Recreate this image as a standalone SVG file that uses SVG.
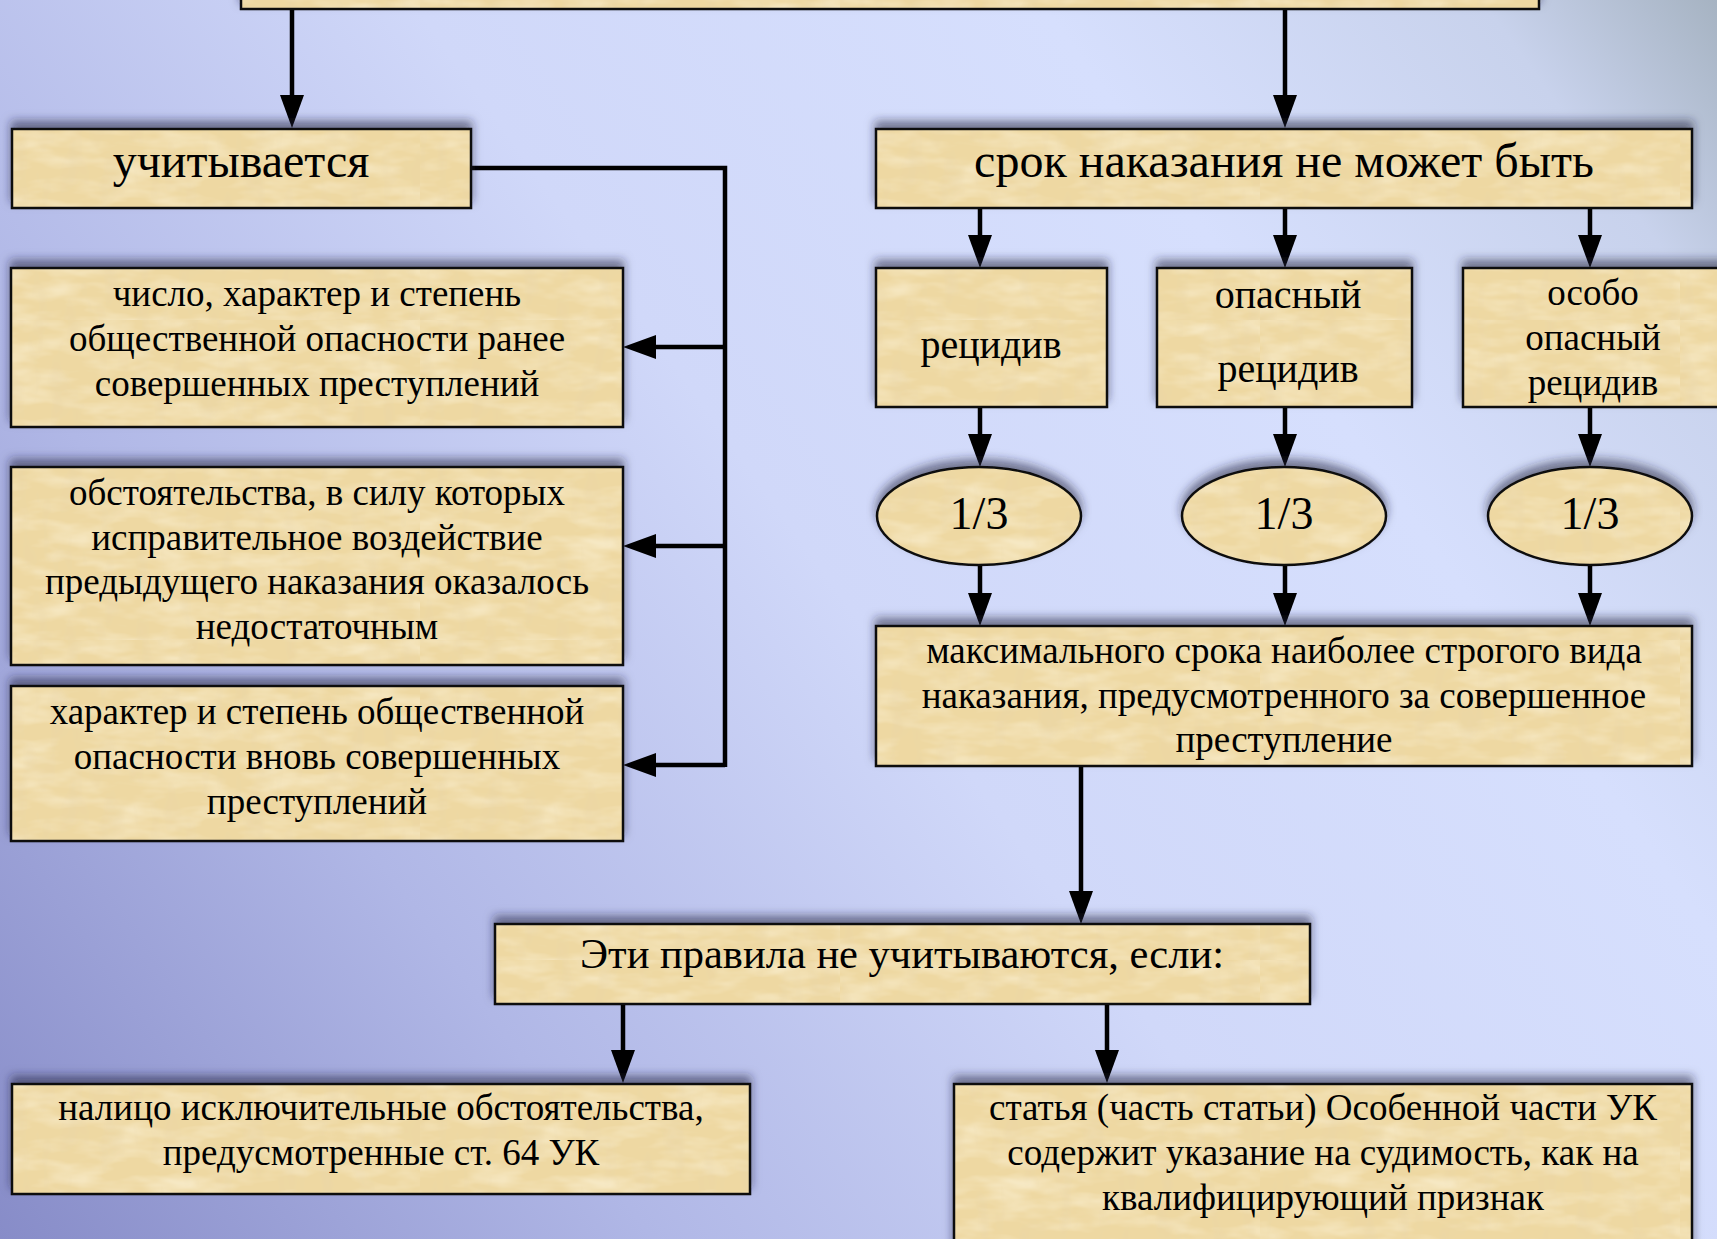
<svg xmlns="http://www.w3.org/2000/svg" width="1717" height="1239" viewBox="0 0 1717 1239">
<defs>
<linearGradient id="bg" x1="1717" y1="0" x2="0" y2="1239" gradientUnits="userSpaceOnUse">
<stop offset="0" stop-color="#a6b3c2"/>
<stop offset="0.09" stop-color="#c8d2ec"/>
<stop offset="0.26" stop-color="#d6dffd"/>
<stop offset="0.5" stop-color="#d0d8f9"/>
<stop offset="0.75" stop-color="#b0b7e6"/>
<stop offset="1" stop-color="#878cc8"/>
</linearGradient>
<filter id="noise" x="0" y="0" width="1" height="1">
<feTurbulence type="fractalNoise" baseFrequency="0.02 0.06" numOctaves="3" seed="7" result="n"/>
<feColorMatrix in="n" type="matrix" values="0 0 0 0 0.99  0 0 0 0 0.93  0 0 0 0 0.76  1.1 0 0 0 -0.45"/>
</filter>
<filter id="noise2" x="0" y="0" width="1" height="1">
<feTurbulence type="fractalNoise" baseFrequency="0.06 0.02" numOctaves="2" seed="3" result="n"/>
<feColorMatrix in="n" type="matrix" values="0 0 0 0 0.8  0 0 0 0 0.66  0 0 0 0 0.4  1.0 0 0 0 -0.5"/>
</filter>
<pattern id="paper" patternUnits="userSpaceOnUse" width="420" height="320">
<rect width="420" height="320" fill="#eed8a2"/>
<rect width="420" height="320" filter="url(#noise)"/>
<rect width="420" height="320" filter="url(#noise2)"/>
</pattern>
<filter id="sh" x="-5%" y="-30%" width="110%" height="160%">
<feDropShadow dx="0" dy="-7" stdDeviation="5" flood-color="#1a1a3a" flood-opacity="0.55"/>
</filter>
<marker id="ah" markerWidth="34" markerHeight="24" refX="23" refY="12" orient="auto" markerUnits="userSpaceOnUse">
<path d="M0,0 L33,12 L0,24 z" fill="#000"/>
</marker>
<style>
.box{fill:url(#paper);stroke:#111;stroke-width:2.5;filter:url(#sh)}
.t{font-family:"Liberation Serif","Times New Roman",serif;fill:#000;text-anchor:middle}
.s{font-size:37px}
.m{font-size:40px}
.l{font-size:48px}
.e{font-size:46px}
.h{font-size:42.5px}
.c{fill:none;stroke:#000;stroke-width:4.5}
.a{marker-end:url(#ah)}
</style>
</defs>
<rect width="1717" height="1239" fill="url(#bg)"/>

<g id="connectors">
<path class="c a" d="M292,9 V118"/>
<path class="c a" d="M1285,9 V118"/>
<path class="c" d="M471,168 H725 V767"/>
<path class="c a" d="M725,347 H633"/>
<path class="c a" d="M725,546 H633"/>
<path class="c a" d="M725,765 H633"/>
<path class="c a" d="M980,208 V258"/>
<path class="c a" d="M1285,208 V258"/>
<path class="c a" d="M1590,208 V258"/>
<path class="c a" d="M980,407 V457"/>
<path class="c a" d="M1285,407 V457"/>
<path class="c a" d="M1590,407 V457"/>
<path class="c a" d="M980,565 V616"/>
<path class="c a" d="M1285,565 V616"/>
<path class="c a" d="M1590,565 V616"/>
<path class="c a" d="M1081,766 V914"/>
<path class="c a" d="M623,1004 V1073"/>
<path class="c a" d="M1107,1004 V1073"/>
</g>

<g id="n-top"><rect class="box" x="241" y="-80" width="1298" height="89"/></g>

<g id="n-uchit"><rect class="box" x="12" y="129" width="459" height="79"/>
<text class="t l" x="241" y="177">учитывается</text></g>

<g id="n-chislo"><rect class="box" x="11" y="268" width="612" height="159"/>
<text class="t s" x="317"><tspan x="317" y="306">число, характер и степень</tspan><tspan x="317" y="351">общественной опасности ранее</tspan><tspan x="317" y="396">совершенных преступлений</tspan></text></g>

<g id="n-obst"><rect class="box" x="11" y="467" width="612" height="198"/>
<text class="t s" x="317"><tspan x="317" y="505">обстоятельства, в силу которых</tspan><tspan x="317" y="550">исправительное воздействие</tspan><tspan x="317" y="594">предыдущего наказания оказалось</tspan><tspan x="317" y="639">недостаточным</tspan></text></g>

<g id="n-harakter"><rect class="box" x="11" y="686" width="612" height="155"/>
<text class="t s" x="317"><tspan x="317" y="724">характер и степень общественной</tspan><tspan x="317" y="769">опасности вновь совершенных</tspan><tspan x="317" y="814">преступлений</tspan></text></g>

<g id="n-srok"><rect class="box" x="876" y="129" width="816" height="79"/>
<text class="t l" x="1284" y="177">срок наказания не может быть</text></g>

<g id="n-recid"><rect class="box" x="876" y="268" width="231" height="139"/>
<text class="t m" x="991" y="358">рецидив</text></g>

<g id="n-opasn"><rect class="box" x="1157" y="268" width="255" height="139"/>
<text class="t m" x="1288"><tspan x="1288" y="308">опасный</tspan><tspan x="1288" y="382">рецидив</tspan></text></g>

<g id="n-osobo"><rect class="box" x="1463" y="268" width="262" height="139"/>
<text class="t s" x="1593"><tspan x="1593" y="305">особо</tspan><tspan x="1593" y="350">опасный</tspan><tspan x="1593" y="395">рецидив</tspan></text></g>

<g id="n-e1"><ellipse class="box" cx="979" cy="516" rx="102" ry="49"/>
<text class="t e" x="979" y="529">1/3</text></g>
<g id="n-e2"><ellipse class="box" cx="1284" cy="516" rx="102" ry="49"/>
<text class="t e" x="1284" y="529">1/3</text></g>
<g id="n-e3"><ellipse class="box" cx="1590" cy="516" rx="102" ry="49"/>
<text class="t e" x="1590" y="529">1/3</text></g>

<g id="n-max"><rect class="box" x="876" y="626" width="816" height="140"/>
<text class="t s" x="1284"><tspan x="1284" y="663">максимального срока наиболее строгого вида</tspan><tspan x="1284" y="708">наказания, предусмотренного за совершенное</tspan><tspan x="1284" y="752">преступление</tspan></text></g>

<g id="n-eti"><rect class="box" x="495" y="924" width="815" height="80"/>
<text class="t h" x="902" y="968">Эти правила не учитываются, если:</text></g>

<g id="n-nalico"><rect class="box" x="12" y="1084" width="738" height="110"/>
<text class="t s" x="381"><tspan x="381" y="1120">налицо исключительные обстоятельства,</tspan><tspan x="381" y="1165">предусмотренные ст. 64 УК</tspan></text></g>

<g id="n-statya"><rect class="box" x="954" y="1084" width="738" height="200"/>
<text class="t s" x="1323"><tspan x="1323" y="1120">статья (часть статьи) Особенной части УК</tspan><tspan x="1323" y="1165">содержит указание на судимость, как на</tspan><tspan x="1323" y="1210">квалифицирующий признак</tspan></text></g>
</svg>
